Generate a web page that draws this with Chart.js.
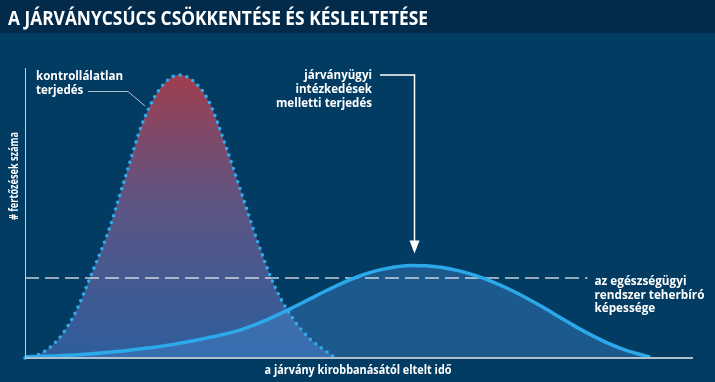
<!DOCTYPE html>
<html lang="hu">
<head>
<meta charset="utf-8">
<title>A járványcsúcs csökkentése és késleltetése</title>
<script src="https://cdn.jsdelivr.net/npm/chart.js@4.4.1/dist/chart.umd.min.js"></script>
<style>
  html, body { margin: 0; padding: 0; background: #033c63; }
  #wrap { position: relative; width: 715px; height: 382px; }
</style>
</head>
<body>
<div id="wrap"><canvas id="curveChart"></canvas></div>
<script>
// x: time since the outbreak (0-100), y: number of infections (100 = uncontrolled peak)
const redDays  = [0, 2.5, 5, 7.5, 10, 12.5, 15, 17.5, 20, 23, 25, 27.5, 30, 32.5, 35, 37.5, 40, 42.5, 45, 46.5];
const redCases = [0, 1.8, 6.7, 15.9, 29.9, 44.9, 63.8, 82.5, 94.5, 100, 98.3, 90.8, 75.3, 57.6, 39.9, 24.7, 14.3, 7.1, 2.5, 0];

const blueDays  = [0, 2.5, 5, 7.5, 10, 12.5, 15, 17.5, 20, 22.5, 25, 27.5, 30, 32.5, 35, 37.5, 40, 42.5, 45, 47.5,
                   50, 52.5, 55, 57.5, 60, 62.5, 65, 67.5, 70, 72.5, 75, 77.5, 80, 82.5, 85, 87.5, 90, 92.5, 93.6];
const blueCases = [0.4, 0.6, 0.8, 1.1, 1.5, 2.0, 2.6, 3.3, 4.0, 4.9, 6.0, 7.2, 8.5, 10.1, 12.3, 14.9, 17.7, 20.7, 23.7, 26.5,
                   28.9, 30.8, 32.0, 32.7, 32.6, 32.0, 30.8, 29.1, 26.9, 24.3, 21.3, 18.0, 14.5, 11.0, 7.8, 5.0, 2.7, 1.0, 0.3];

const capacityDays  = [0, 84.2];
const capacityLevel = [28.3, 28.3];

const titleText = "A JÁRVÁNYCSÚCS CSÖKKENTÉSE ÉS KÉSLELTETÉSE";
const redLabel = ["kontrollálatlan", "terjedés"];
const blueLabel = ["járványügyi", "intézkedések", "melletti terjedés"];
const capacityLabel = ["az egészségügyi", "rendszer teherbíró", "képessége"];
const xTitle = "a járvány kirobbanásától eltelt idő";
const yTitle = "# fertőzések száma";

function toPoints(xs, ys) {
  return xs.map((x, i) => ({ x: x, y: ys[i] }));
}

// draws text squeezed/stretched horizontally by factor s
function drawScaled(ctx, text, x, y, s, align) {
  ctx.save();
  ctx.translate(x, y);
  ctx.scale(s, 1);
  ctx.textAlign = align;
  ctx.fillText(text, 0, 0);
  ctx.restore();
}

function drawLines(ctx, lines, x, y0, step, refIndex, refWidth, align) {
  const s = refWidth / ctx.measureText(lines[refIndex]).width;
  lines.forEach((t, i) => drawScaled(ctx, t, x, y0 + i * step, s, align));
}

const decor = {
  id: "decor",
  beforeDraw(chart) {
    const ctx = chart.ctx;
    ctx.save();
    ctx.fillStyle = "#033c63";
    ctx.fillRect(0, 0, chart.width, chart.height);
    ctx.fillStyle = "#022b4b";
    ctx.fillRect(0, 0, chart.width, 33);
    ctx.fillStyle = "#ffffff";
    ctx.font = "bold 19px 'Open Sans'";
    ctx.textBaseline = "alphabetic";
    drawScaled(ctx, titleText, 8, 25, 420 / ctx.measureText(titleText).width, "left");
    ctx.restore();
  },
  afterDatasetsDraw(chart) {
    const ctx = chart.ctx;
    const a = chart.chartArea;
    const xs = chart.scales.x, ys = chart.scales.y;
    ctx.save();

    // axes
    ctx.strokeStyle = "#c3ced8";
    ctx.lineWidth = 1;
    ctx.beginPath();
    ctx.moveTo(a.left + 0.5, a.top);
    ctx.lineTo(a.left + 0.5, a.bottom);
    ctx.stroke();
    ctx.strokeStyle = "#aebfce";
    ctx.lineWidth = 2;
    ctx.beginPath();
    ctx.moveTo(a.left, a.bottom);
    ctx.lineTo(a.right, a.bottom);
    ctx.stroke();

    // leader to the uncontrolled curve
    ctx.strokeStyle = "#b4c0cb";
    ctx.lineWidth = 1;
    ctx.beginPath();
    ctx.moveTo(88, 91.5);
    ctx.lineTo(128, 91.5);
    ctx.lineTo(145, 106);
    ctx.stroke();

    // arrow to the flattened peak
    let pk = 0;
    blueCases.forEach((v, i) => { if (v > blueCases[pk]) pk = i; });
    const ax = Math.round(xs.getPixelForValue(blueDays[pk] + 0.7)) + 0.5;
    const ay = ys.getPixelForValue(Math.max(...redCases));
    const tip = ys.getPixelForValue(blueCases[pk]) - 12;
    ctx.strokeStyle = "#ffffff";
    ctx.fillStyle = "#ffffff";
    ctx.lineWidth = 1.5;
    ctx.beginPath();
    ctx.moveTo(380, ay);
    ctx.lineTo(ax, ay);
    ctx.lineTo(ax, tip - 10);
    ctx.stroke();
    ctx.beginPath();
    ctx.moveTo(ax - 5, tip - 13);
    ctx.lineTo(ax + 5, tip - 13);
    ctx.lineTo(ax, tip);
    ctx.closePath();
    ctx.fill();

    // labels
    ctx.fillStyle = "#ffffff";
    ctx.font = "bold 12px 'Open Sans'";
    drawLines(ctx, redLabel, 36, 80, 14, 0, 87, "left");
    drawLines(ctx, blueLabel, 372, 79, 14, 2, 96, "right");
    const cx = xs.getPixelForValue(capacityDays[capacityDays.length - 1]) + 7;
    drawLines(ctx, capacityLabel, cx, 285, 13.5, 1, 110, "left");

    ctx.font = "bold 12.5px 'Open Sans'";
    drawScaled(ctx, xTitle, 358, 374, 187 / ctx.measureText(xTitle).width, "center");

    ctx.font = "bold 12.5px 'Open Sans'";
    ctx.translate(18, 176);
    ctx.rotate(-Math.PI / 2);
    drawScaled(ctx, yTitle, 0, 0, 88 / ctx.measureText(yTitle).width, "center");

    ctx.restore();
  }
};

function redFill(c) {
  const chart = c.chart;
  if (!chart.chartArea) return "rgba(120,80,120,0.8)";
  const y = chart.scales.y;
  const g = chart.ctx.createLinearGradient(0, y.getPixelForValue(100), 0, y.getPixelForValue(0));
  g.addColorStop(0, "rgba(168,62,78,0.95)");
  g.addColorStop(0.45, "rgba(110,88,135,0.85)");
  g.addColorStop(1, "rgba(60,105,175,0.75)");
  return g;
}

const ctx = document.getElementById("curveChart").getContext("2d");

new Chart(ctx, {
  type: "line",
  data: {
    datasets: [
      {
        label: "járványügyi intézkedések melletti terjedés",
        data: toPoints(blueDays, blueCases),
        borderColor: "#2ba9ea",
        borderWidth: 3.5,
        backgroundColor: "rgba(70,140,210,0.38)",
        fill: "origin",
        cubicInterpolationMode: "monotone",
        pointRadius: 0,
        clip: 5,
        order: 1
      },
      {
        label: "az egészségügyi rendszer teherbíró képessége",
        data: toPoints(capacityDays, capacityLevel),
        borderColor: "rgba(228,234,240,0.85)",
        borderWidth: 1.5,
        borderDash: [14, 6],
        fill: false,
        pointRadius: 0,
        order: 2
      },
      {
        label: "kontrollálatlan terjedés",
        data: toPoints(redDays, redCases),
        borderColor: "#33aaea",
        borderWidth: 3.6,
        borderDash: [0, 7],
        borderCapStyle: "round",
        backgroundColor: redFill,
        fill: "origin",
        cubicInterpolationMode: "monotone",
        pointRadius: 0,
        clip: 5,
        order: 3
      }
    ]
  },
  options: {
    responsive: true,
    maintainAspectRatio: false,
    animation: false,
    layout: { padding: { left: 25, right: 22, top: 68, bottom: 24 } },
    plugins: {
      legend: { display: false },
      tooltip: { enabled: false },
      filler: { drawTime: "beforeDatasetsDraw" }
    },
    scales: {
      x: { type: "linear", min: 0, max: 100, display: false },
      y: { min: 0, max: 102.5, display: false }
    }
  },
  plugins: [decor]
});
</script>
</body>
</html>
